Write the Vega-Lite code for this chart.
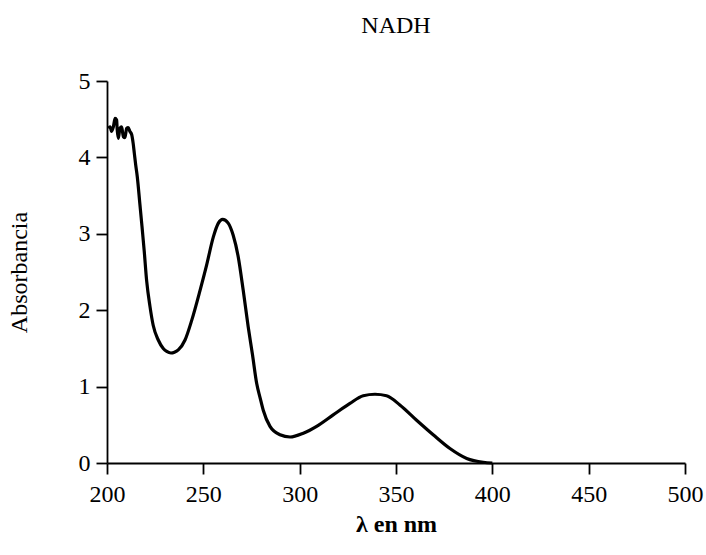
{
  "$schema": "https://vega.github.io/schema/vega-lite/v6.json",
  "autosize": "none",
  "width": 578,
  "height": 382,
  "padding": {"left": 107, "top": 81, "right": 21, "bottom": 92},
  "background": "white",
  "title": {"text": "NADH", "font": "Liberation Serif", "fontSize": 24, "fontWeight": "normal", "color": "black", "anchor": "middle", "offset": 31},
  "config": {
    "view": {"stroke": null},
    "axis": {
      "grid": false,
      "domainColor": "black",
      "domainWidth": 1.8,
      "tickColor": "black",
      "tickWidth": 1.8,
      "tickSize": 11,
      "labelFont": "Liberation Serif",
      "labelFontSize": 24,
      "labelColor": "black",
      "titleFont": "Liberation Serif",
      "titleFontSize": 24,
      "titleColor": "black"
    }
  },
  "data": {"values": [
    {"wl": 200.7, "abs": 4.38}, {"wl": 201.6, "abs": 4.40}, {"wl": 202.4, "abs": 4.34}, {"wl": 203.3, "abs": 4.40},
    {"wl": 204.2, "abs": 4.51}, {"wl": 205.0, "abs": 4.49}, {"wl": 205.3, "abs": 4.36}, {"wl": 205.9, "abs": 4.25},
    {"wl": 206.7, "abs": 4.38}, {"wl": 207.6, "abs": 4.40}, {"wl": 208.5, "abs": 4.27}, {"wl": 209.3, "abs": 4.26},
    {"wl": 210.2, "abs": 4.38}, {"wl": 211.0, "abs": 4.39}, {"wl": 211.9, "abs": 4.34}, {"wl": 212.8, "abs": 4.30},
    {"wl": 213.6, "abs": 4.18}, {"wl": 214.2, "abs": 4.05}, {"wl": 214.9, "abs": 3.90}, {"wl": 215.7, "abs": 3.75},
    {"wl": 217.1, "abs": 3.38}, {"wl": 218.0, "abs": 3.14}, {"wl": 219.3, "abs": 2.78}, {"wl": 220.6, "abs": 2.38},
    {"wl": 222.3, "abs": 2.05}, {"wl": 224.0, "abs": 1.80}, {"wl": 226.6, "abs": 1.61}, {"wl": 229.2, "abs": 1.50},
    {"wl": 231.0, "abs": 1.46}, {"wl": 233.2, "abs": 1.44}, {"wl": 235.0, "abs": 1.45}, {"wl": 237.0, "abs": 1.48},
    {"wl": 240.5, "abs": 1.61}, {"wl": 244.0, "abs": 1.87}, {"wl": 248.3, "abs": 2.26}, {"wl": 251.7, "abs": 2.59},
    {"wl": 255.2, "abs": 2.96}, {"wl": 257.8, "abs": 3.14}, {"wl": 260.0, "abs": 3.19}, {"wl": 262.9, "abs": 3.14},
    {"wl": 265.5, "abs": 2.98}, {"wl": 268.1, "abs": 2.70}, {"wl": 270.7, "abs": 2.26}, {"wl": 273.3, "abs": 1.78},
    {"wl": 275.5, "abs": 1.42}, {"wl": 277.7, "abs": 1.04}, {"wl": 279.5, "abs": 0.85}, {"wl": 281.1, "abs": 0.69},
    {"wl": 284.6, "abs": 0.48}, {"wl": 289.8, "abs": 0.37}, {"wl": 295.0, "abs": 0.34}, {"wl": 301.9, "abs": 0.39},
    {"wl": 308.8, "abs": 0.48}, {"wl": 317.4, "abs": 0.63}, {"wl": 326.1, "abs": 0.78}, {"wl": 333.0, "abs": 0.88},
    {"wl": 339.1, "abs": 0.90}, {"wl": 345.1, "abs": 0.88}, {"wl": 352.0, "abs": 0.76}, {"wl": 360.7, "abs": 0.56},
    {"wl": 369.3, "abs": 0.37}, {"wl": 378.0, "abs": 0.19}, {"wl": 386.7, "abs": 0.06}, {"wl": 395.3, "abs": 0.01},
    {"wl": 400.0, "abs": 0.0}
  ]},
  "mark": {"type": "line", "color": "black", "strokeWidth": 3.2, "interpolate": "monotone"},
  "encoding": {
    "x": {
      "field": "wl", "type": "quantitative",
      "scale": {"domain": [200, 500], "nice": false, "zero": false},
      "axis": {"title": "λ en nm", "values": [200, 250, 300, 350, 400, 450, 500], "labelPadding": 8, "titlePadding": 6, "titleFontWeight": "bold", "labelFlush": false}
    },
    "y": {
      "field": "abs", "type": "quantitative",
      "scale": {"domain": [0, 5], "nice": false},
      "axis": {"title": "Absorbancia", "values": [0, 1, 2, 3, 4, 5], "labelPadding": 6, "titlePadding": 47, "titleFontWeight": "normal", "labelFlush": false}
    }
  }
}
